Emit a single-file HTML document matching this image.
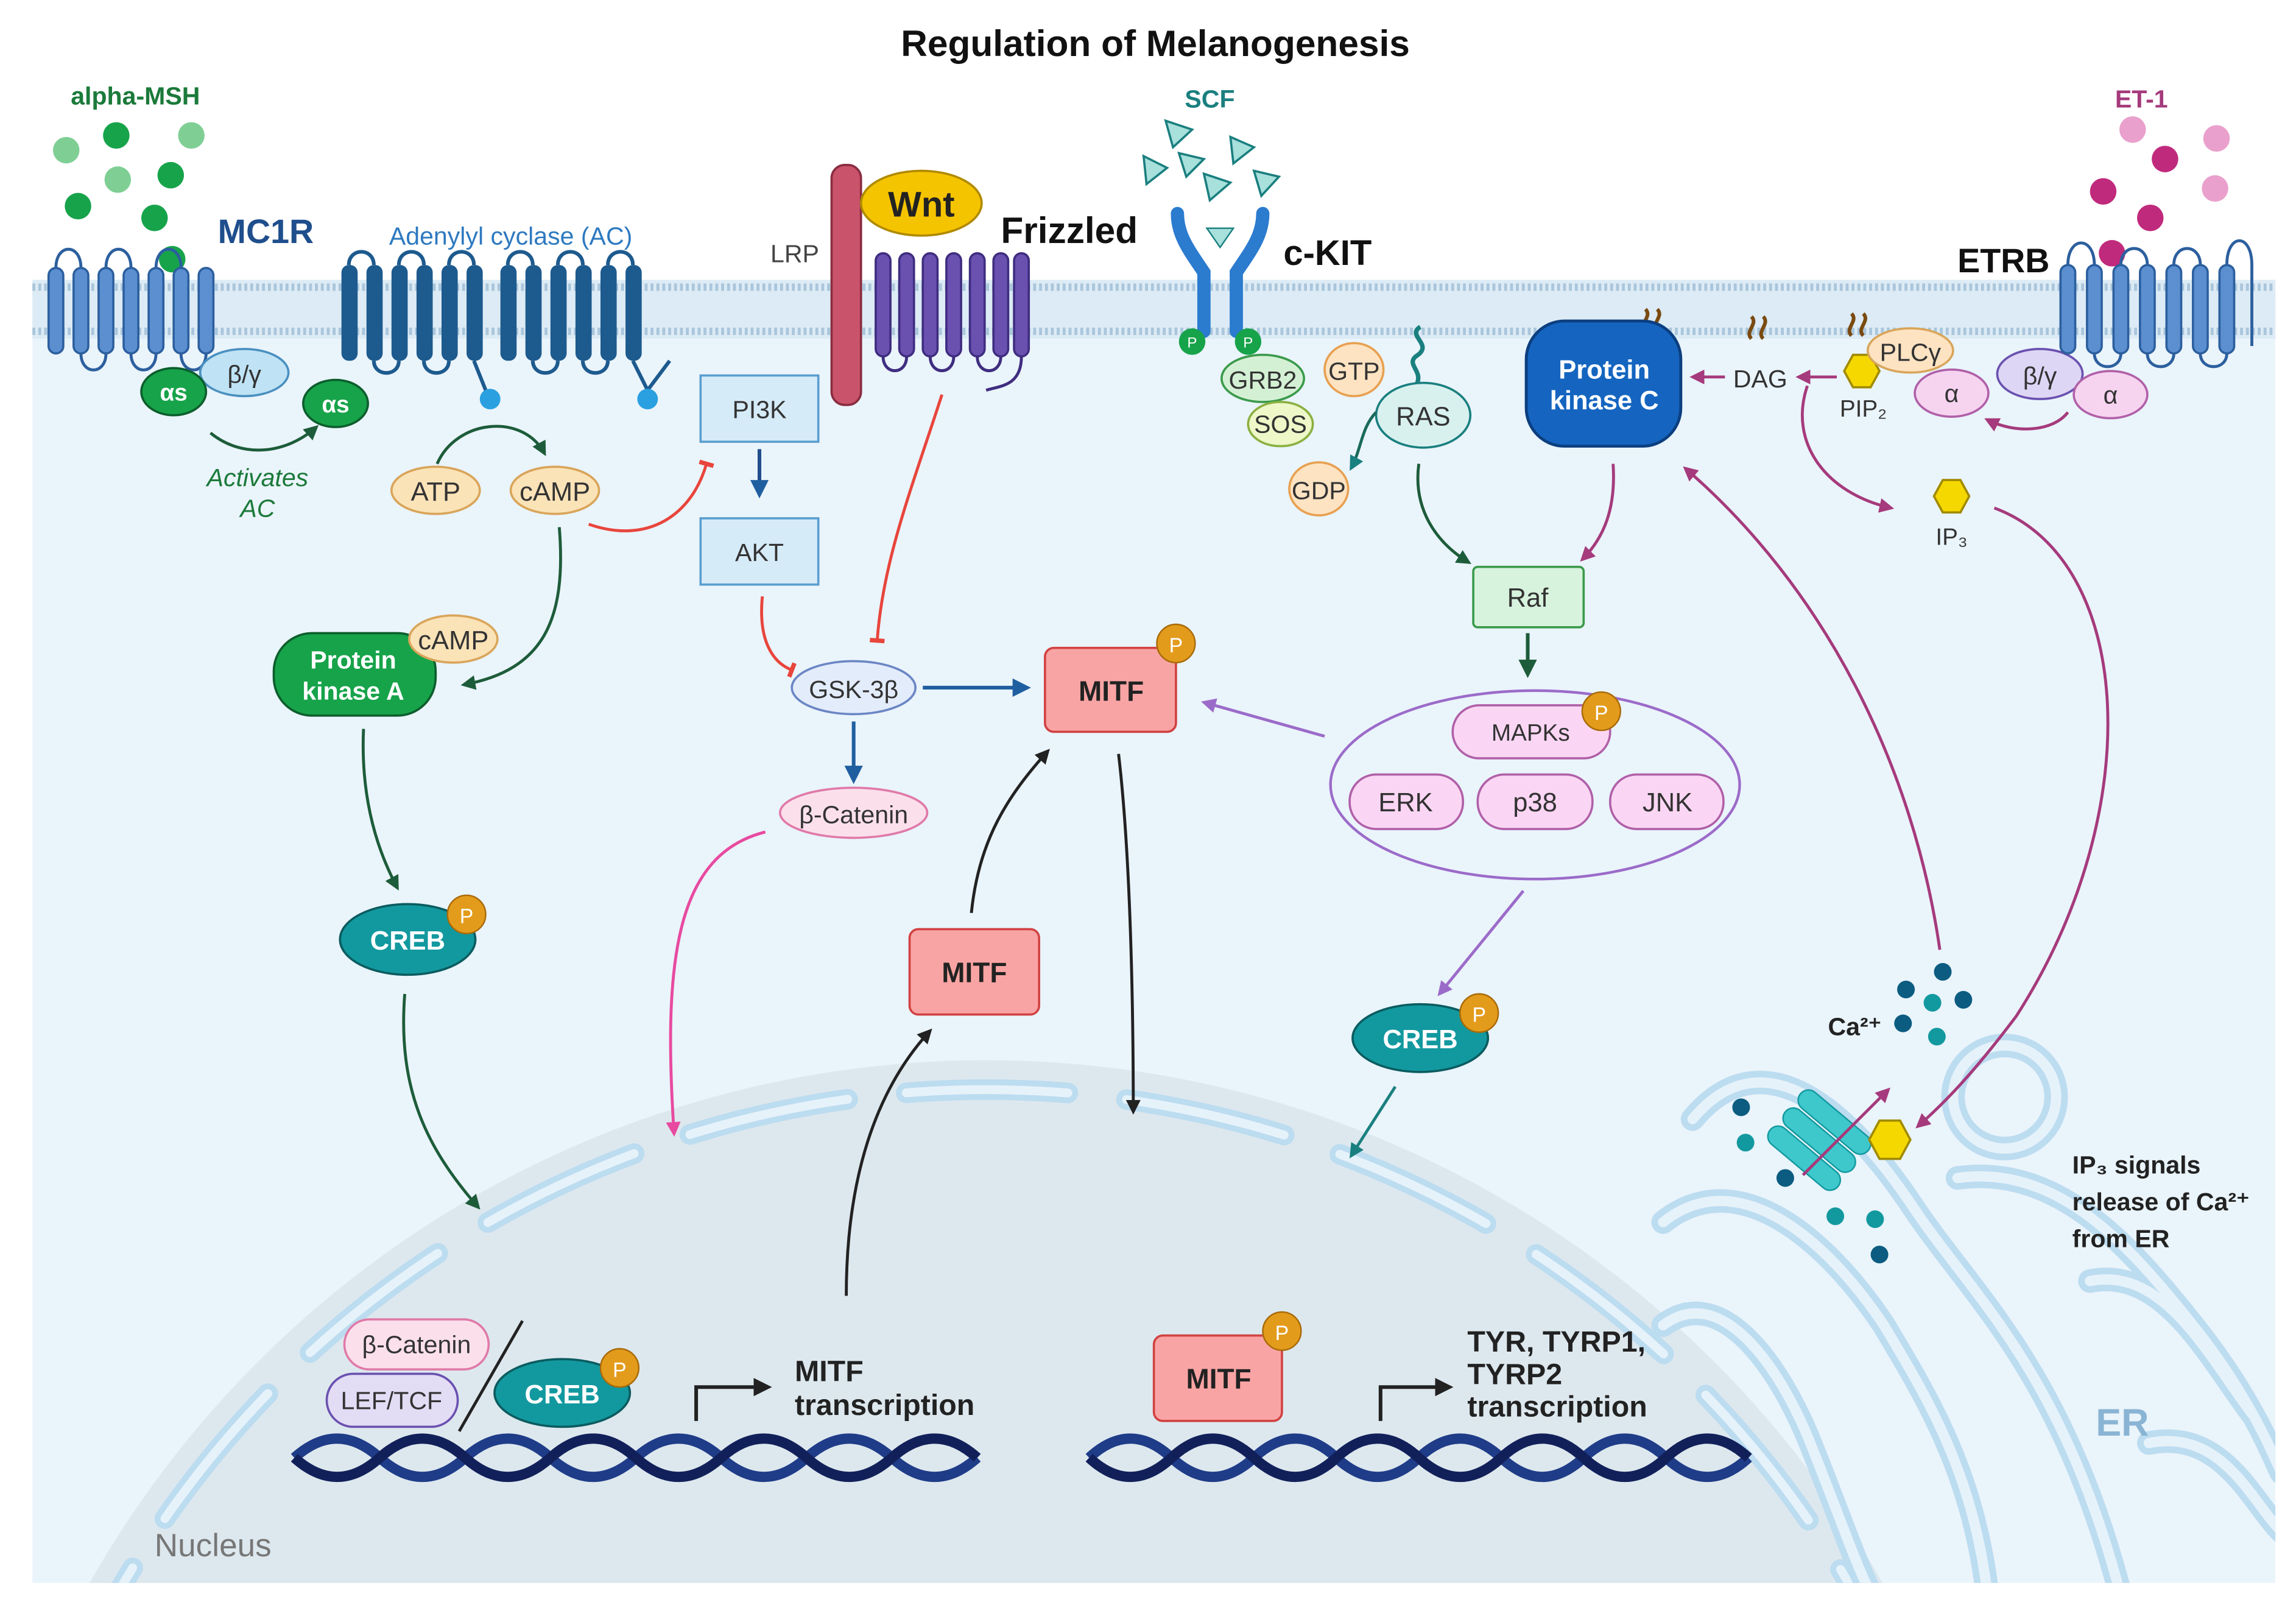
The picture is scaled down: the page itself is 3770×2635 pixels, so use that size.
<!DOCTYPE html>
<html><head><meta charset="utf-8">
<style>
html,body{margin:0;padding:0;background:#fff;width:3770px;height:2635px;overflow:hidden;}
svg{display:block;}
text{font-family:"Liberation Sans",sans-serif;}
</style></head><body>
<svg width="3770" height="2635" viewBox="0 0 1560 1090" preserveAspectRatio="none" xmlns="http://www.w3.org/2000/svg">
<defs>
<marker id="mg" viewBox="0 0 10 10" refX="8" refY="5" markerWidth="5" markerHeight="5" orient="auto"><path d="M0,0L10,5L0,10z" fill="#1d5c3a"/></marker>
<marker id="mn" viewBox="0 0 10 10" refX="8" refY="5" markerWidth="5" markerHeight="5" orient="auto"><path d="M0,0L10,5L0,10z" fill="#1f5fa0"/></marker>
<marker id="mk" viewBox="0 0 10 10" refX="8" refY="5" markerWidth="5" markerHeight="5" orient="auto"><path d="M0,0L10,5L0,10z" fill="#222"/></marker>
<marker id="mp" viewBox="0 0 10 10" refX="8" refY="5" markerWidth="5" markerHeight="5" orient="auto"><path d="M0,0L10,5L0,10z" fill="#9b6bc9"/></marker>
<marker id="mm" viewBox="0 0 10 10" refX="8" refY="5" markerWidth="5" markerHeight="5" orient="auto"><path d="M0,0L10,5L0,10z" fill="#a53a7c"/></marker>
<marker id="mt" viewBox="0 0 10 10" refX="8" refY="5" markerWidth="5" markerHeight="5" orient="auto"><path d="M0,0L10,5L0,10z" fill="#1a7f7f"/></marker>
<marker id="mpk" viewBox="0 0 10 10" refX="8" refY="5" markerWidth="5" markerHeight="5" orient="auto"><path d="M0,0L10,5L0,10z" fill="#e84aa0"/></marker>
<marker id="tr" viewBox="0 0 10 10" refX="5" refY="5" markerWidth="5" markerHeight="5" orient="auto"><path d="M5,0L5,10" stroke="#e8453c" stroke-width="3"/></marker>
<clipPath id="cell"><rect x="22" y="195" width="1524" height="880"/></clipPath>
</defs>

<rect x="22" y="195" width="1524" height="880" fill="#eaf4fb"/>
<g clip-path="url(#cell)">
 <circle cx="670" cy="1420" r="700" fill="#dde8ee"/>
 <circle cx="670" cy="1420" r="680" fill="none" stroke="#bcdcf0" stroke-width="14" stroke-dasharray="110 40" stroke-linecap="round"/>
 <circle cx="670" cy="1420" r="680" fill="none" stroke="#e6f2fa" stroke-width="6" stroke-dasharray="110 40" stroke-linecap="round"/>
 <g fill="none" stroke="#bcdcf0" stroke-width="16" stroke-linecap="round">
  <path d="M1150,760 C1200,700 1260,760 1300,820 C1340,880 1400,930 1440,1080"/>
  <path d="M1130,830 C1180,790 1240,840 1280,900 C1310,950 1340,1000 1350,1080"/>
  <path d="M1130,900 C1170,870 1210,930 1230,980 C1250,1030 1260,1060 1270,1080"/>
  <path d="M1330,800 C1400,790 1450,850 1490,900 C1530,950 1545,990 1550,1000"/>
  <path d="M1420,870 C1470,860 1500,920 1530,960"/>
  <path d="M1460,980 C1510,970 1530,1020 1550,1040"/>
  <circle cx="1362" cy="745" r="35"/>
 </g>
 <g fill="none" stroke="#e6f2fa" stroke-width="7" stroke-linecap="round">
  <path d="M1150,760 C1200,700 1260,760 1300,820 C1340,880 1400,930 1440,1080"/>
  <path d="M1130,830 C1180,790 1240,840 1280,900 C1310,950 1340,1000 1350,1080"/>
  <path d="M1130,900 C1170,870 1210,930 1230,980 C1250,1030 1260,1060 1270,1080"/>
  <path d="M1330,800 C1400,790 1450,850 1490,900 C1530,950 1545,990 1550,1000"/>
  <path d="M1420,870 C1470,860 1500,920 1530,960"/>
  <path d="M1460,980 C1510,970 1530,1020 1550,1040"/>
  <circle cx="1362" cy="745" r="35"/>
 </g>
</g>
<text x="1442" y="975" font-size="26" font-weight="bold" fill="#8ab4d4" text-anchor="middle">ER</text>
<text x="105" y="1057" font-size="22" fill="#777">Nucleus</text>

<rect x="22" y="190" width="1524" height="40" fill="#dcebf5"/>
<line x1="22" y1="195" x2="1546" y2="195" stroke="#aac6dc" stroke-width="5" stroke-dasharray="2 2"/>
<line x1="22" y1="225" x2="1546" y2="225" stroke="#aac6dc" stroke-width="5" stroke-dasharray="2 2"/>

<text x="785" y="38" font-size="25" font-weight="bold" text-anchor="middle" fill="#111">Regulation of Melanogenesis</text>

<text x="92" y="71" font-size="17" font-weight="bold" fill="#1b7a3a" text-anchor="middle">alpha-MSH</text>
<g fill="#17a34a"><circle cx="79" cy="92" r="9"/><circle cx="116" cy="119" r="9"/><circle cx="53" cy="140" r="9"/><circle cx="105" cy="148" r="9"/><circle cx="117" cy="176" r="9"/></g>
<g fill="#7fcf95"><circle cx="45" cy="102" r="9"/><circle cx="130" cy="92" r="9"/><circle cx="80" cy="122" r="9"/></g>
<g fill="#5b8fd0" stroke="#2c5f9e" stroke-width="1.5">
 <rect x="33" y="182" width="10" height="58" rx="5"/><rect x="50" y="182" width="10" height="58" rx="5"/><rect x="67" y="182" width="10" height="58" rx="5"/><rect x="84" y="182" width="10" height="58" rx="5"/><rect x="101" y="182" width="10" height="58" rx="5"/><rect x="118" y="182" width="10" height="58" rx="5"/><rect x="135" y="182" width="10" height="58" rx="5"/>
</g>
<path d="M38,182 C38,165 55,165 55,182 M72,182 C72,165 89,165 89,182 M106,182 C106,165 123,165 123,182 M55,240 C55,255 72,255 72,240 M89,240 C89,255 106,255 106,240 M123,240 C123,255 140,255 140,240" fill="none" stroke="#2c5f9e" stroke-width="2"/>
<text x="148" y="165" font-size="23" font-weight="bold" fill="#1f4e8c">MC1R</text>
<ellipse cx="166" cy="253" rx="30" ry="16" fill="#bfe3f5" stroke="#4a90c0" stroke-width="1.5"/><text x="166" y="260" font-size="17" text-anchor="middle" fill="#333">β/γ</text>
<ellipse cx="118" cy="266" rx="22" ry="16" fill="#17a34a" stroke="#0c5e2c" stroke-width="1.5"/><text x="118" y="272" font-size="16" font-weight="bold" text-anchor="middle" fill="#fff">αs</text>
<ellipse cx="228" cy="274" rx="22" ry="16" fill="#17a34a" stroke="#0c5e2c" stroke-width="1.5"/><text x="228" y="280" font-size="16" font-weight="bold" text-anchor="middle" fill="#fff">αs</text>
<path d="M143,294 C165,312 195,308 215,290" fill="none" stroke="#1d5c3a" stroke-width="2" marker-end="url(#mg)"/>
<text x="175" y="330" font-size="17" font-style="italic" fill="#1b7a3a" text-anchor="middle">Activates</text>
<text x="175" y="351" font-size="17" font-style="italic" fill="#1b7a3a" text-anchor="middle">AC</text>

<text x="347" y="166" font-size="17" fill="#2e79c0" text-anchor="middle">Adenylyl cyclase (AC)</text>
<g fill="#1d5a8e">
 <rect x="232" y="180" width="11" height="65" rx="5"/><rect x="249" y="180" width="11" height="65" rx="5"/><rect x="266" y="180" width="11" height="65" rx="5"/><rect x="283" y="180" width="11" height="65" rx="5"/><rect x="300" y="180" width="11" height="65" rx="5"/><rect x="317" y="180" width="11" height="65" rx="5"/>
 <rect x="340" y="180" width="11" height="65" rx="5"/><rect x="357" y="180" width="11" height="65" rx="5"/><rect x="374" y="180" width="11" height="65" rx="5"/><rect x="391" y="180" width="11" height="65" rx="5"/><rect x="408" y="180" width="11" height="65" rx="5"/><rect x="425" y="180" width="11" height="65" rx="5"/>
</g>
<path d="M237,180 C237,168 254,168 254,180 M271,180 C271,168 288,168 288,180 M305,180 C305,168 322,168 322,180 M345,180 C345,168 362,168 362,180 M379,180 C379,168 396,168 396,180 M413,180 C413,168 430,168 430,180 M254,245 C254,256 271,256 271,245 M288,245 C288,256 305,256 305,245 M362,245 C362,256 379,256 379,245 M396,245 C396,256 413,256 413,245 M322,245 L330,265 M430,245 L440,265 M440,265 L455,245" fill="none" stroke="#1d5a8e" stroke-width="2.5"/>
<circle cx="333" cy="271" r="7" fill="#2aa0e0"/><circle cx="440" cy="271" r="7" fill="#2aa0e0"/>
<path d="M297,315 C310,285 355,280 370,308" fill="none" stroke="#1d5c3a" stroke-width="2" marker-end="url(#mg)"/>
<ellipse cx="296" cy="333" rx="30" ry="16" fill="#fbe3b8" stroke="#d9a55a" stroke-width="1.5"/><text x="296" y="340" font-size="18" text-anchor="middle" fill="#333">ATP</text>
<ellipse cx="377" cy="333" rx="30" ry="16" fill="#fbe3b8" stroke="#d9a55a" stroke-width="1.5"/><text x="377" y="340" font-size="18" text-anchor="middle" fill="#333">cAMP</text>
<path d="M400,356 C440,370 470,350 480,315" fill="none" stroke="#e8453c" stroke-width="2" marker-end="url(#tr)"/>
<path d="M380,358 C385,420 370,455 315,465" fill="none" stroke="#1d5c3a" stroke-width="2" marker-end="url(#mg)"/>
<rect x="186" y="430" width="110" height="56" rx="26" fill="#17a34a" stroke="#0c5e2c" stroke-width="1.5"/>
<text x="240" y="454" font-size="17" font-weight="bold" text-anchor="middle" fill="#fff">Protein</text>
<text x="240" y="475" font-size="17" font-weight="bold" text-anchor="middle" fill="#fff">kinase A</text>
<ellipse cx="308" cy="434" rx="30" ry="16" fill="#fbe3b8" stroke="#d9a55a" stroke-width="1.5"/><text x="308" y="441" font-size="18" text-anchor="middle" fill="#333">cAMP</text>
<path d="M247,495 C245,540 255,575 270,603" fill="none" stroke="#1d5c3a" stroke-width="2" marker-end="url(#mg)"/>
<ellipse cx="277" cy="638" rx="46" ry="24" fill="#12999f" stroke="#0b5c60" stroke-width="1.5"/><text x="277" y="645" font-size="18" font-weight="bold" text-anchor="middle" fill="#fff">CREB</text>
<circle cx="317" cy="621" r="13" fill="#e39b1b" stroke="#a86a08"/><text x="317" y="627" font-size="14" text-anchor="middle" fill="#fff">P</text>
<path d="M275,675 C270,740 290,780 325,820" fill="none" stroke="#1d5c3a" stroke-width="2" marker-end="url(#mg)"/>

<rect x="565" y="112" width="20" height="163" rx="9" fill="#c9536a" stroke="#8a2c40" stroke-width="1.5"/>
<text x="540" y="178" font-size="17" fill="#444" text-anchor="middle">LRP</text>
<g fill="#6a51b0" stroke="#3f2d80" stroke-width="1.5">
 <rect x="595" y="172" width="10" height="70" rx="5"/><rect x="611" y="172" width="10" height="70" rx="5"/><rect x="627" y="172" width="10" height="70" rx="5"/><rect x="643" y="172" width="10" height="70" rx="5"/><rect x="659" y="172" width="10" height="70" rx="5"/><rect x="675" y="172" width="10" height="70" rx="5"/><rect x="689" y="172" width="10" height="70" rx="5"/>
</g>
<path d="M600,242 C600,255 616,255 616,242 M632,242 C632,255 648,255 648,242 M664,242 C664,255 680,255 680,242 M694,242 C694,262 680,262 670,265" fill="none" stroke="#3f2d80" stroke-width="2"/>
<ellipse cx="626" cy="138" rx="41" ry="22" fill="#f5c400" stroke="#b08a00" stroke-width="1.5"/><text x="626" y="147" font-size="24" font-weight="bold" text-anchor="middle" fill="#222">Wnt</text>
<text x="680" y="165" font-size="25" font-weight="bold" fill="#111">Frizzled</text>
<path d="M640,268 C620,330 600,380 596,435" fill="none" stroke="#e8453c" stroke-width="2" marker-end="url(#tr)"/>

<rect x="476" y="255" width="80" height="45" fill="#d6ebf8" stroke="#5a9ed0" stroke-width="1.5"/><text x="516" y="284" font-size="17" text-anchor="middle" fill="#333">PI3K</text>
<line x1="516" y1="305" x2="516" y2="336" stroke="#1f4e8c" stroke-width="2.5" marker-end="url(#mn)"/>
<rect x="476" y="352" width="80" height="45" fill="#d6ebf8" stroke="#5a9ed0" stroke-width="1.5"/><text x="516" y="381" font-size="17" text-anchor="middle" fill="#333">AKT</text>
<path d="M518,405 C515,435 525,450 538,455" fill="none" stroke="#e8453c" stroke-width="2" marker-end="url(#tr)"/>
<ellipse cx="580" cy="467" rx="42" ry="18" fill="#e3ecfa" stroke="#6b86c4" stroke-width="1.5"/><text x="580" y="474" font-size="17" text-anchor="middle" fill="#333">GSK-3β</text>
<line x1="627" y1="467" x2="698" y2="467" stroke="#1f5fa0" stroke-width="2.5" marker-end="url(#mn)"/>
<line x1="580" y1="490" x2="580" y2="530" stroke="#1f5fa0" stroke-width="2.5" marker-end="url(#mn)"/>
<ellipse cx="580" cy="552" rx="50" ry="17" fill="#fbe0ec" stroke="#e07aa8" stroke-width="1.5"/><text x="580" y="559" font-size="17" text-anchor="middle" fill="#333">β-Catenin</text>
<path d="M520,565 C460,580 450,650 458,770" fill="none" stroke="#e84aa0" stroke-width="2" marker-end="url(#mpk)"/>

<rect x="710" y="440" width="89" height="57" rx="6" fill="#f9a4a4" stroke="#d14242" stroke-width="1.5"/><text x="755" y="476" font-size="19" font-weight="bold" text-anchor="middle" fill="#222">MITF</text>
<circle cx="799" cy="437" r="13" fill="#e39b1b" stroke="#a86a08"/><text x="799" y="443" font-size="14" text-anchor="middle" fill="#fff">P</text>
<rect x="618" y="631" width="88" height="58" rx="6" fill="#f9a4a4" stroke="#d14242" stroke-width="1.5"/><text x="662" y="667" font-size="19" font-weight="bold" text-anchor="middle" fill="#222">MITF</text>
<path d="M660,620 C665,570 685,540 712,510" fill="none" stroke="#222" stroke-width="2" marker-end="url(#mk)"/>
<path d="M575,880 C575,800 595,740 632,700" fill="none" stroke="#222" stroke-width="2" marker-end="url(#mk)"/>
<path d="M760,512 C768,580 770,680 770,755" fill="none" stroke="#222" stroke-width="2" marker-end="url(#mk)"/>

<text x="822" y="73" font-size="17" font-weight="bold" fill="#1a7f7f" text-anchor="middle">SCF</text>
<g fill="#a8e0dc" stroke="#1a7f7f" stroke-width="1.5">
 <path d="M792,82 L810,88 L797,100z"/><path d="M777,106 L793,114 L779,125z"/><path d="M801,104 L818,108 L806,120z"/><path d="M836,93 L852,100 L838,111z"/><path d="M818,118 L836,124 L822,136z"/><path d="M852,116 L869,120 L857,133z"/>
</g>
<path d="M818,225 L818,185 C808,170 800,160 800,145 M840,225 L840,185 C850,170 858,160 858,145" fill="none" stroke="#2b7bcf" stroke-width="9" stroke-linecap="round"/>
<path d="M820,155 L838,155 L829,168z" fill="#a8e0dc" stroke="#1a7f7f"/>
<text x="872" y="180" font-size="24" font-weight="bold" fill="#111">c-KIT</text>
<circle cx="810" cy="232" r="9" fill="#17a34a"/><text x="810" y="236" font-size="10" text-anchor="middle" fill="#fff">P</text>
<circle cx="848" cy="232" r="9" fill="#17a34a"/><text x="848" y="236" font-size="10" text-anchor="middle" fill="#fff">P</text>
<ellipse cx="858" cy="257" rx="28" ry="16" fill="#d4f0d4" stroke="#3a9a4a" stroke-width="1.5"/><text x="858" y="264" font-size="17" text-anchor="middle" fill="#333">GRB2</text>
<ellipse cx="870" cy="288" rx="22" ry="15" fill="#eef7c8" stroke="#8ab040" stroke-width="1.5"/><text x="870" y="294" font-size="17" text-anchor="middle" fill="#333">SOS</text>
<ellipse cx="920" cy="251" rx="20" ry="18" fill="#fde3c2" stroke="#e8a050" stroke-width="1.5"/><text x="920" y="258" font-size="17" text-anchor="middle" fill="#333">GTP</text>
<ellipse cx="896" cy="332" rx="20" ry="18" fill="#fde3c2" stroke="#e8a050" stroke-width="1.5"/><text x="896" y="339" font-size="17" text-anchor="middle" fill="#333">GDP</text>
<path d="M965,222 C955,228 975,234 962,242 C955,248 968,252 962,262" fill="none" stroke="#1a7f7f" stroke-width="3"/>
<ellipse cx="967" cy="282" rx="32" ry="22" fill="#d8f1ef" stroke="#1a7f7f" stroke-width="1.5"/><text x="967" y="289" font-size="18" text-anchor="middle" fill="#333">RAS</text>
<path d="M935,280 C925,290 925,305 918,318" fill="none" stroke="#1a6a5a" stroke-width="2" marker-end="url(#mt)"/>
<path d="M964,315 C960,345 975,368 998,382" fill="none" stroke="#1d5c3a" stroke-width="2" marker-end="url(#mg)"/>
<rect x="1001" y="385" width="75" height="41" rx="3" fill="#d7f2dd" stroke="#3a9a4a" stroke-width="1.5"/><text x="1038" y="412" font-size="18" text-anchor="middle" fill="#333">Raf</text>
<path d="M1096,315 C1098,345 1090,365 1075,380" fill="none" stroke="#a53a7c" stroke-width="2" marker-end="url(#mm)"/>
<line x1="1038" y1="430" x2="1038" y2="458" stroke="#1d5c3a" stroke-width="2.5" marker-end="url(#mg)"/>

<ellipse cx="1043" cy="533" rx="139" ry="64" fill="none" stroke="#9b6bc9" stroke-width="1.8"/>
<rect x="987" y="479" width="107" height="36" rx="18" fill="#fbd6f4" stroke="#b060a8" stroke-width="1.5"/><text x="1040" y="503" font-size="16" text-anchor="middle" fill="#333">MAPKs</text>
<circle cx="1088" cy="483" r="13" fill="#e39b1b" stroke="#a86a08"/><text x="1088" y="489" font-size="14" text-anchor="middle" fill="#fff">P</text>
<rect x="917" y="526" width="77" height="37" rx="18" fill="#fbd6f4" stroke="#b060a8" stroke-width="1.5"/><text x="955" y="551" font-size="18" text-anchor="middle" fill="#333">ERK</text>
<rect x="1004" y="526" width="78" height="37" rx="18" fill="#fbd6f4" stroke="#b060a8" stroke-width="1.5"/><text x="1043" y="551" font-size="18" text-anchor="middle" fill="#333">p38</text>
<rect x="1094" y="526" width="77" height="37" rx="18" fill="#fbd6f4" stroke="#b060a8" stroke-width="1.5"/><text x="1133" y="551" font-size="18" text-anchor="middle" fill="#333">JNK</text>
<line x1="900" y1="500" x2="818" y2="477" stroke="#9b6bc9" stroke-width="2" marker-end="url(#mp)"/>
<line x1="1035" y1="605" x2="978" y2="675" stroke="#9b6bc9" stroke-width="2" marker-end="url(#mp)"/>
<ellipse cx="965" cy="705" rx="46" ry="23" fill="#12999f" stroke="#0b5c60" stroke-width="1.5"/><text x="965" y="712" font-size="18" font-weight="bold" text-anchor="middle" fill="#fff">CREB</text>
<circle cx="1005" cy="688" r="13" fill="#e39b1b" stroke="#a86a08"/><text x="1005" y="694" font-size="14" text-anchor="middle" fill="#fff">P</text>
<line x1="948" y1="738" x2="918" y2="785" stroke="#1a7f7f" stroke-width="2" marker-end="url(#mt)"/>

<path d="M1118,210 c5,5 -5,10 0,15 M1126,210 c5,5 -5,10 0,15" fill="none" stroke="#7a4a10" stroke-width="2.5"/>
<rect x="1037" y="218" width="105" height="85" rx="26" fill="#1565c0" stroke="#0c3f80" stroke-width="2"/>
<text x="1090" y="257" font-size="18" font-weight="bold" text-anchor="middle" fill="#fff">Protein</text>
<text x="1090" y="278" font-size="18" font-weight="bold" text-anchor="middle" fill="#fff">kinase C</text>
<path d="M1190,215 c5,5 -5,10 0,15 M1198,215 c5,5 -5,10 0,15" fill="none" stroke="#7a4a10" stroke-width="2.5"/>
<text x="1196" y="263" font-size="17" fill="#333" text-anchor="middle">DAG</text>
<line x1="1172" y1="256" x2="1150" y2="256" stroke="#a53a7c" stroke-width="2" marker-end="url(#mm)"/>
<line x1="1248" y1="256" x2="1222" y2="256" stroke="#a53a7c" stroke-width="2" marker-end="url(#mm)"/>
<path d="M1258,213 c5,5 -5,10 0,15 M1266,213 c5,5 -5,10 0,15" fill="none" stroke="#7a4a10" stroke-width="2.5"/>
<path d="M1253,252 l6,-11 h12 l6,11 l-6,11 h-12z" fill="#f5d800" stroke="#a08a00" stroke-width="1.5"/>
<text x="1266" y="283" font-size="16" fill="#333" text-anchor="middle">PIP₂</text>
<ellipse cx="1298" cy="238" rx="29" ry="15" fill="#fde3c2" stroke="#d9a55a" stroke-width="1.5"/><text x="1298" y="245" font-size="17" text-anchor="middle" fill="#333">PLCγ</text>
<ellipse cx="1326" cy="267" rx="25" ry="16" fill="#f6d4f0" stroke="#b060a8" stroke-width="1.5"/><text x="1326" y="273" font-size="17" text-anchor="middle" fill="#333">α</text>
<ellipse cx="1386" cy="254" rx="29" ry="17" fill="#ddd6f5" stroke="#6a51b0" stroke-width="1.5"/><text x="1386" y="261" font-size="17" text-anchor="middle" fill="#333">β/γ</text>
<ellipse cx="1434" cy="268" rx="25" ry="16" fill="#f6d4f0" stroke="#b060a8" stroke-width="1.5"/><text x="1434" y="274" font-size="17" text-anchor="middle" fill="#333">α</text>
<path d="M1405,280 C1395,293 1370,295 1350,285" fill="none" stroke="#a53a7c" stroke-width="2" marker-end="url(#mm)"/>
<path d="M1228,262 C1215,300 1240,335 1285,345" fill="none" stroke="#a53a7c" stroke-width="2" marker-end="url(#mm)"/>
<path d="M1314,337 l6,-11 h12 l6,11 l-6,11 h-12z" fill="#f5d800" stroke="#a08a00" stroke-width="1.5"/>
<text x="1326" y="370" font-size="16" fill="#333" text-anchor="middle">IP₃</text>
<path d="M1355,345 C1450,380 1460,550 1370,690 C1340,730 1320,750 1303,765" fill="none" stroke="#a53a7c" stroke-width="2" marker-end="url(#mm)"/>
<path d="M1318,645 C1300,520 1240,400 1145,318" fill="none" stroke="#a53a7c" stroke-width="2" marker-end="url(#mm)"/>

<text x="1455" y="73" font-size="17" font-weight="bold" fill="#a53a7c" text-anchor="middle">ET-1</text>
<g fill="#c02a7c"><circle cx="1471" cy="108" r="9"/><circle cx="1429" cy="130" r="9"/><circle cx="1461" cy="148" r="9"/><circle cx="1435" cy="172" r="9"/></g>
<g fill="#eaa0cc"><circle cx="1449" cy="88" r="9"/><circle cx="1506" cy="94" r="9"/><circle cx="1505" cy="128" r="9"/></g>
<text x="1330" y="185" font-size="23" font-weight="bold" fill="#111">ETRB</text>
<g fill="#5b8fd0" stroke="#2c5f9e" stroke-width="1.5">
 <rect x="1400" y="180" width="10" height="60" rx="5"/><rect x="1418" y="180" width="10" height="60" rx="5"/><rect x="1436" y="180" width="10" height="60" rx="5"/><rect x="1454" y="180" width="10" height="60" rx="5"/><rect x="1472" y="180" width="10" height="60" rx="5"/><rect x="1490" y="180" width="10" height="60" rx="5"/><rect x="1508" y="180" width="10" height="60" rx="5"/>
</g>
<path d="M1405,180 C1405,160 1423,160 1423,180 M1441,180 C1441,165 1459,165 1459,180 M1477,180 C1477,165 1495,165 1495,180 M1513,180 C1513,158 1530,158 1530,180 L1530,235 M1423,240 C1423,252 1441,252 1441,240 M1459,240 C1459,252 1477,252 1477,240 M1495,240 C1495,252 1513,252 1513,240" fill="none" stroke="#2c5f9e" stroke-width="2"/>

<text x="1242" y="703" font-size="17" font-weight="bold" fill="#222">Ca²⁺</text>
<g fill="#0b5c80"><circle cx="1320" cy="660" r="6"/><circle cx="1295" cy="672" r="6"/><circle cx="1334" cy="679" r="6"/><circle cx="1293" cy="695" r="6"/><circle cx="1183" cy="752" r="6"/><circle cx="1213" cy="800" r="6"/><circle cx="1277" cy="852" r="6"/></g>
<g fill="#12999f"><circle cx="1313" cy="681" r="6"/><circle cx="1316" cy="704" r="6"/><circle cx="1186" cy="776" r="6"/><circle cx="1247" cy="826" r="6"/><circle cx="1274" cy="828" r="6"/></g>
<g transform="rotate(40 1238 772)"><rect x="1208" y="752" width="60" height="14" rx="7" fill="#3ec8cc" stroke="#12999f"/><rect x="1208" y="768" width="60" height="14" rx="7" fill="#3ec8cc" stroke="#12999f"/><rect x="1208" y="784" width="60" height="14" rx="7" fill="#3ec8cc" stroke="#12999f"/></g>
<line x1="1225" y1="798" x2="1283" y2="740" stroke="#a53a7c" stroke-width="2" marker-end="url(#mm)"/>
<path d="M1270,774 l7,-13 h14 l7,13 l-7,13 h-14z" fill="#f5d800" stroke="#a08a00" stroke-width="1.5"/>
<text x="1408" y="797" font-size="17" font-weight="bold" fill="#222">IP₃ signals</text>
<text x="1408" y="822" font-size="17" font-weight="bold" fill="#222">release of Ca²⁺</text>
<text x="1408" y="847" font-size="17" font-weight="bold" fill="#222">from ER</text>

<rect x="234" y="896" width="98" height="34" rx="17" fill="#fbe0ec" stroke="#e07aa8" stroke-width="1.5"/><text x="283" y="919" font-size="17" text-anchor="middle" fill="#333">β-Catenin</text>
<rect x="222" y="933" width="89" height="36" rx="18" fill="#e3dcf5" stroke="#6a51b0" stroke-width="1.5"/><text x="266" y="957" font-size="17" text-anchor="middle" fill="#333">LEF/TCF</text>
<line x1="312" y1="972" x2="355" y2="897" stroke="#222" stroke-width="2"/>
<ellipse cx="382" cy="946" rx="46" ry="23" fill="#12999f" stroke="#0b5c60" stroke-width="1.5"/><text x="382" y="953" font-size="18" font-weight="bold" text-anchor="middle" fill="#fff">CREB</text>
<circle cx="421" cy="929" r="13" fill="#e39b1b" stroke="#a86a08"/><text x="421" y="935" font-size="14" text-anchor="middle" fill="#fff">P</text>
<path d="M473,965 L473,942 L522,942" fill="none" stroke="#222" stroke-width="2.5" marker-end="url(#mk)"/>
<text x="540" y="938" font-size="20" font-weight="bold" fill="#222">MITF</text>
<text x="540" y="961" font-size="20" font-weight="bold" fill="#222">transcription</text>

<rect x="784" y="907" width="87" height="58" rx="6" fill="#f9a4a4" stroke="#d14242" stroke-width="1.5"/><text x="828" y="943" font-size="19" font-weight="bold" text-anchor="middle" fill="#222">MITF</text>
<circle cx="871" cy="904" r="13" fill="#e39b1b" stroke="#a86a08"/><text x="871" y="910" font-size="14" text-anchor="middle" fill="#fff">P</text>
<path d="M938,965 L938,942 L985,942" fill="none" stroke="#222" stroke-width="2.5" marker-end="url(#mk)"/>
<text x="997" y="918" font-size="20" font-weight="bold" fill="#222">TYR, TYRP1,</text>
<text x="997" y="940" font-size="20" font-weight="bold" fill="#222">TYRP2</text>
<text x="997" y="962" font-size="20" font-weight="bold" fill="#222">transcription</text>

<g fill="none" stroke-width="7">
 <path d="M200,990 q29,-26 58,0 t58,0 t58,0 t58,0 t58,0 t58,0 t58,0 t58,0" stroke="#1f3c88"/>
 <path d="M200,990 q29,26 58,0 t58,0 t58,0 t58,0 t58,0 t58,0 t58,0 t58,0" stroke="#12205a"/>
 <path d="M740,990 q28,-26 56,0 t56,0 t56,0 t56,0 t56,0 t56,0 t56,0 t56,0" stroke="#1f3c88"/>
 <path d="M740,990 q28,26 56,0 t56,0 t56,0 t56,0 t56,0 t56,0 t56,0 t56,0" stroke="#12205a"/>
</g>
</svg>
</body></html>
